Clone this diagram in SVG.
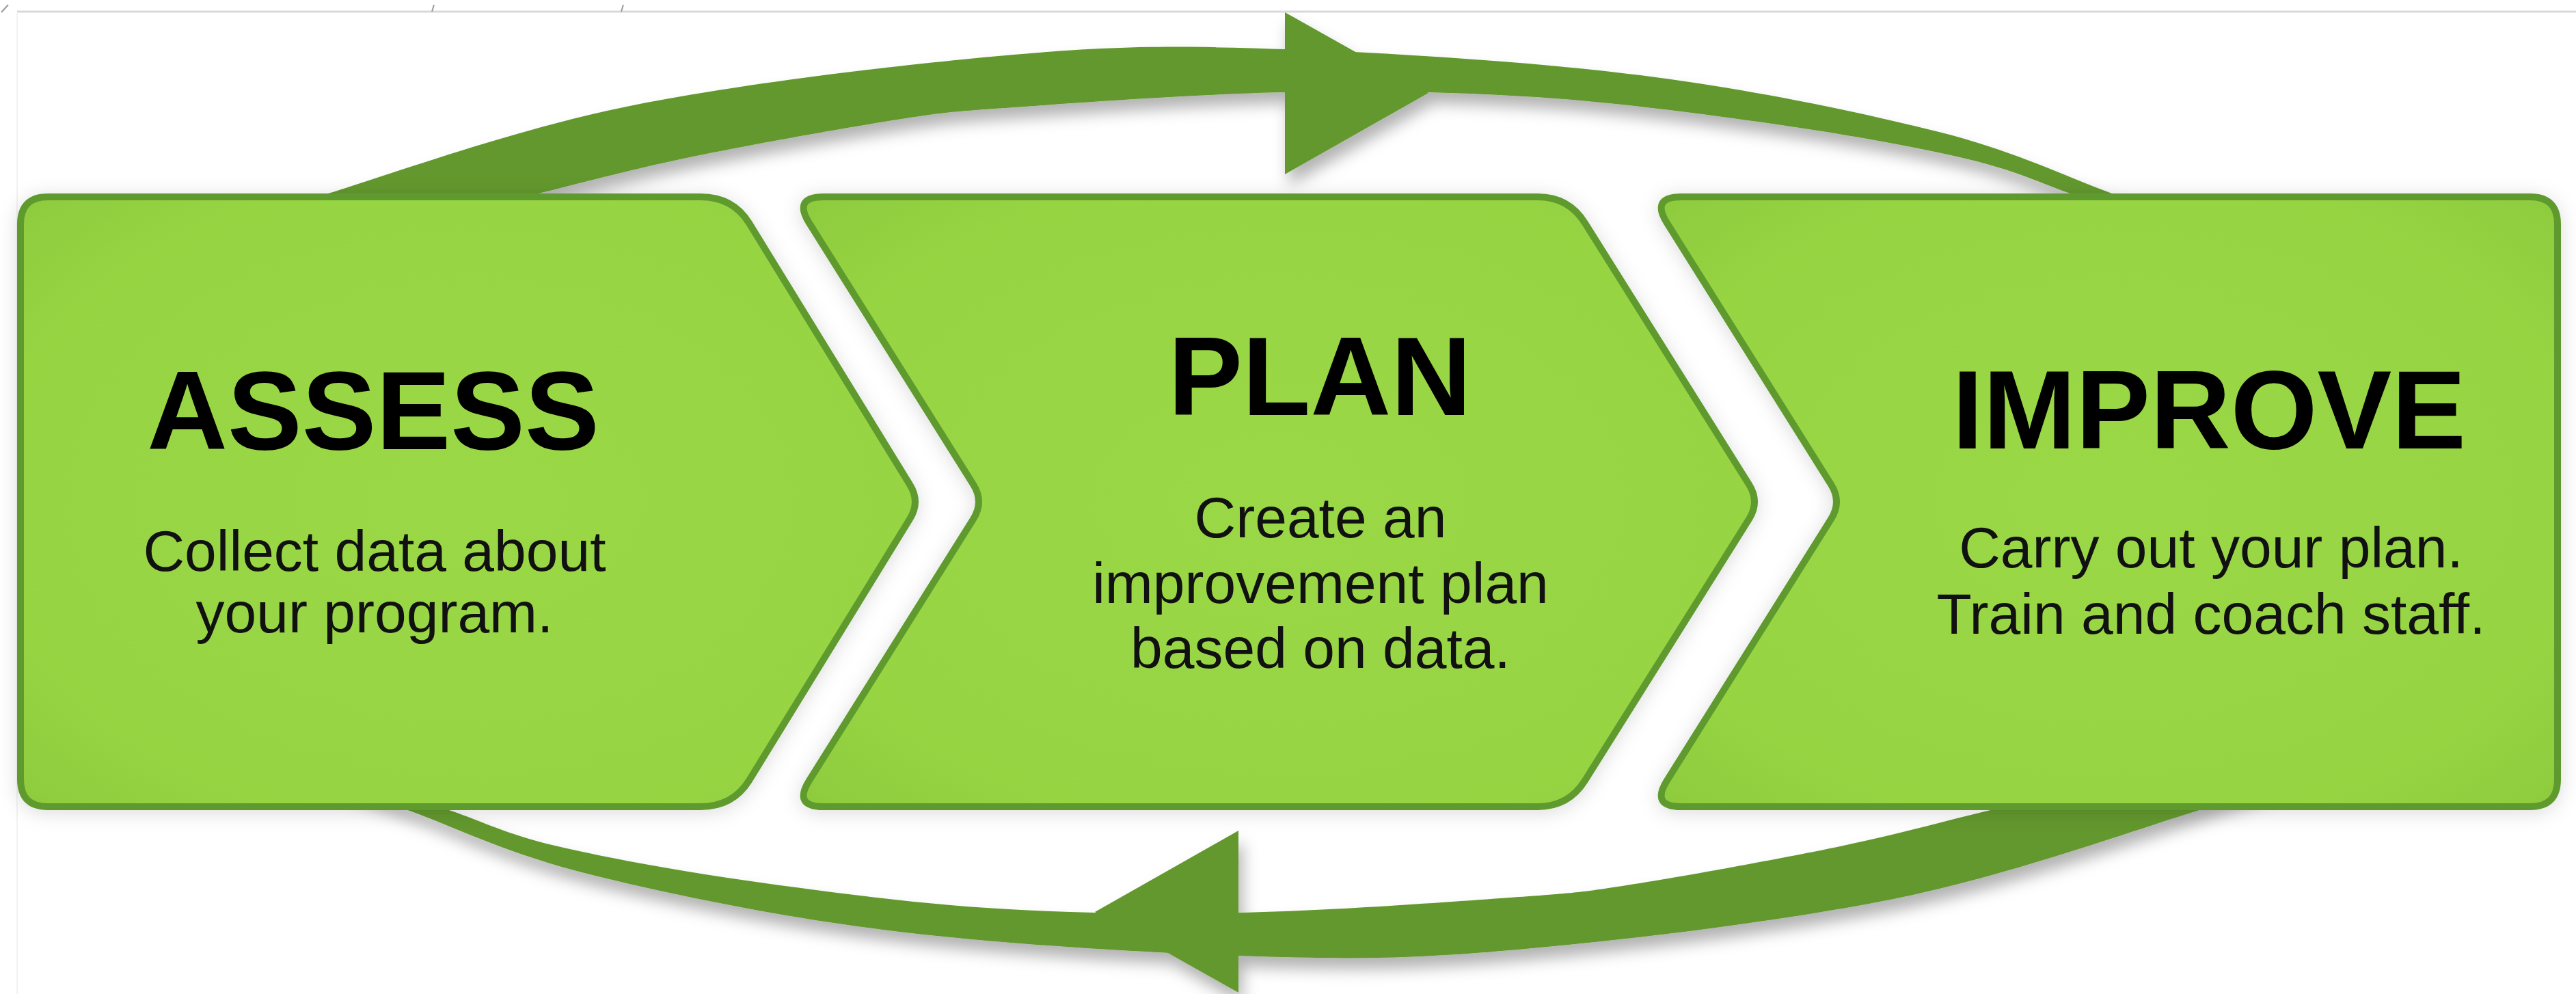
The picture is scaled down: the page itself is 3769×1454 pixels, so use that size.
<svg xmlns="http://www.w3.org/2000/svg" xmlns:xlink="http://www.w3.org/1999/xlink" width="3769" height="1454" viewBox="0 0 3769 1454">
  <style>
    .band { fill: #64982F; }
    .box { fill: url(#boxFill); stroke: #5F9A2D; stroke-width: 10; stroke-linejoin: round; }
    .title { font-family: "Liberation Sans", Arial, Helvetica, sans-serif; font-weight: bold; font-size: 163px; fill: #000; text-anchor: middle; }
    .body { font-family: "Liberation Sans", Arial, Helvetica, sans-serif; font-size: 84px; fill: #111; text-anchor: middle; }
    .rule { stroke: #d9d9d9; stroke-width: 3; fill: none; }
    .tick { stroke: #9a9a9a; stroke-width: 2; fill: none; }
  </style>
  <defs>
    <radialGradient id="boxFill" cx="0.5" cy="0.5" r="0.72">
      <stop offset="0" stop-color="#9BD846"/>
      <stop offset="0.75" stop-color="#97D443"/>
      <stop offset="1" stop-color="#8DCA3D"/>
    </radialGradient>
    <filter id="bandShadow" x="-10%" y="-30%" width="120%" height="160%">
      <feDropShadow dx="6" dy="16" stdDeviation="11" flood-color="#000" flood-opacity="0.3"/>
    </filter>
    <filter id="boxShadow" x="-10%" y="-10%" width="120%" height="120%">
      <feDropShadow dx="0" dy="4" stdDeviation="14" flood-color="#000" flood-opacity="0.14"/>
    </filter>
    <g id="arc">
      <path class="band" d="M364,321 L464,288 C555,261 742,192 912,157 C1082,122 1322,94 1483,80 C1644,66 1727,67 1880,72 C2033,77 2241,90 2400,110 C2560,130 2722,164 2837,193 C2952,222 3031,262 3090,283 L3190,319 L3139,320 L3029,283 C2986,268 2951,250 2880,233 C2808,216 2705,197 2600,182 C2495,167 2368,150 2248,142 C2128,134 2007,132.5 1880,135 C1752,137.5 1580,150 1483,157 C1386,164 1381,164 1300,177 C1219,190 1080,215 995,233 C910,251 848,268.5 788,283 L635,320 Z"/>
      <path class="band" d="M1880,18 L2090,136 L1880,255 Z"/>
    </g>
  </defs>

  <rect x="0" y="0" width="3769" height="1454" fill="#ffffff"/>

  <g id="frame">
    <line class="rule" x1="25" y1="17" x2="3769" y2="17"/>
    <line x1="25" y1="19" x2="25" y2="1454" stroke="#f2f2f2" stroke-width="2"/>
    <line class="tick" x1="2" y1="18" x2="12" y2="7"/>
    <line class="tick" x1="632" y1="17" x2="635" y2="7"/>
    <line class="tick" x1="909" y1="17" x2="912" y2="7"/>
  </g>

  <g id="connectors">
    <g id="arrow-top" filter="url(#bandShadow)">
      <use xlink:href="#arc" href="#arc"/>
    </g>
    <g id="arrow-bottom" filter="url(#bandShadow)">
      <use xlink:href="#arc" href="#arc" transform="rotate(180 1846 735)"/>
    </g>
  </g>

  <g id="node-assess">
    <path class="box" filter="url(#boxShadow)" d="M30,328 Q30,288 70,288 L1025,288 Q1072,288 1095.9,326.1 L1331,708.6 Q1347,734 1331,759.4 L1095.9,1141.9 Q1072,1180 1025,1180 L70,1180 Q30,1180 30,1140 Z"/>
    <text class="title" x="546" y="657">ASSESS</text>
    <text class="body" x="548" y="835">Collect data about</text>
    <text class="body" x="548" y="925">your program.</text>
  </g>

  <g id="node-plan">
    <path class="box" filter="url(#boxShadow)" d="M1205,288 L2250,288 Q2295,288 2318.9,326.1 L2559,708.6 Q2575,734 2559,759.4 L2318.9,1141.9 Q2295,1180 2250,1180 L1205,1180 Q1160,1180 1183.9,1141.9 L1424,759.4 Q1440,734 1424,708.6 L1183.9,326.1 Q1160,288 1205,288 Z"/>
    <text class="title" x="1931" y="607">PLAN</text>
    <text class="body" x="1932" y="786">Create an</text>
    <text class="body" x="1932" y="882">improvement plan</text>
    <text class="body" x="1932" y="977">based on data.</text>
  </g>

  <g id="node-improve">
    <path class="box" filter="url(#boxShadow)" d="M2460,288 L3702,288 Q3742,288 3742,328 L3742,1140 Q3742,1180 3702,1180 L2460,1180 Q2415,1180 2438.9,1141.9 L2679,759.4 Q2695,734 2679,708.6 L2438.9,326.1 Q2415,288 2460,288 Z"/>
    <text class="title" x="3232" y="656">IMPROVE</text>
    <text class="body" x="3235" y="830">Carry out your plan.</text>
    <text class="body" x="3235" y="927">Train and coach staff.</text>
  </g>
</svg>
